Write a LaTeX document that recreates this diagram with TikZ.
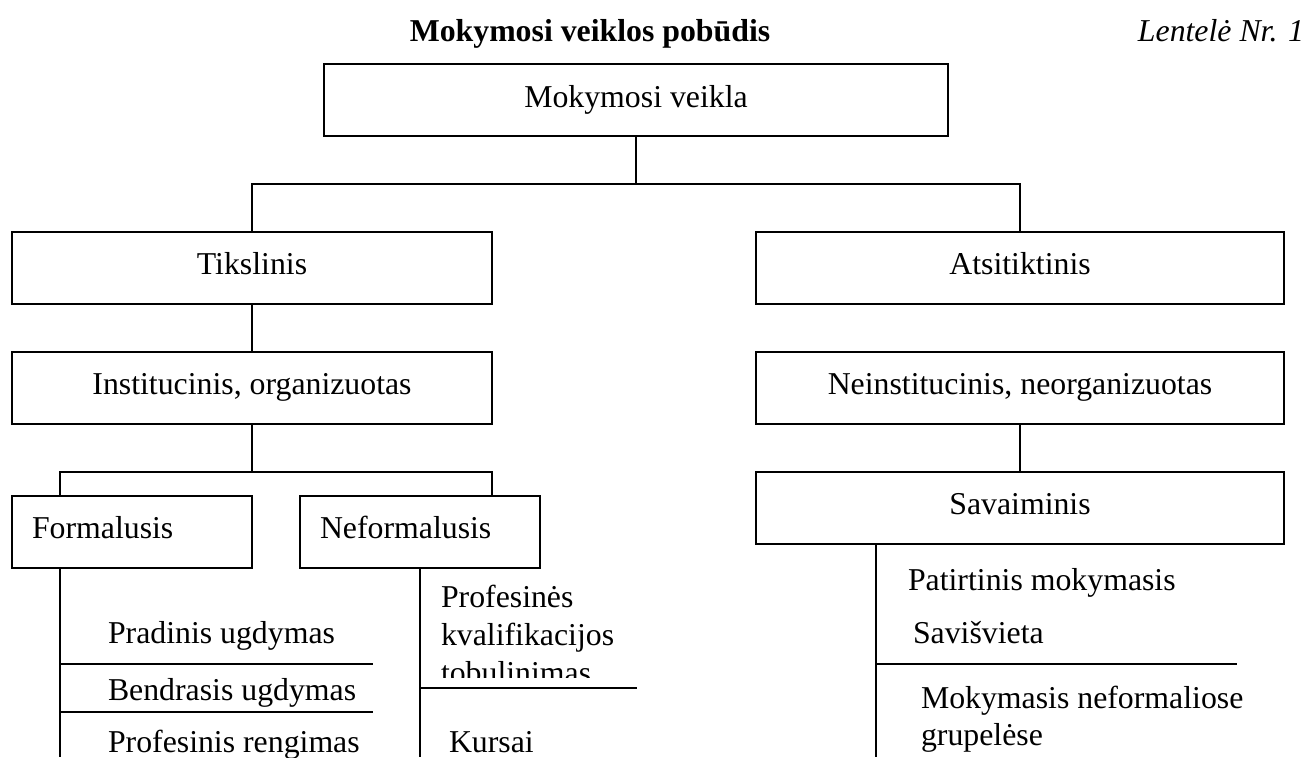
\documentclass[tikz,border=0pt]{standalone}
\usepackage{fontspec}
\setmainfont{Liberation Serif}
\begin{document}
\begin{tikzpicture}[x=1pt,y=-1pt,
  every node/.style={font=\fontsize{31.8}{37}\selectfont, inner sep=0pt, outer sep=0pt},
  box/.style={draw, line width=2.2pt, minimum height=72pt, anchor=north west, text height=22pt, text depth=10pt},
  leftbox/.style={box, text width=200pt, inner xsep=20pt, align=left},
  lbl/.style={anchor=base west},
  conn/.style={line width=2.2pt}]
\useasboundingbox (0,0) rectangle (1308,757);
\clip (0,0) rectangle (1308,757);
% titles
\node[font=\fontsize{31.8}{37}\selectfont\bfseries, anchor=base] (title) at (590,42) {Mokymosi veiklos pobūdis};
\node[font=\fontsize{31.8}{37}\selectfont\itshape, anchor=base east] (tab) at (1304,42) {Lentelė Nr. 1};
% boxes
\node[box, minimum width=624pt] (top) at (324,64) {};
\node[lbl, anchor=base] (topt) at (636,107) {Mokymosi veikla};
\node[box, minimum width=480pt] (tik) at (12,232) {Tikslinis};
\node[box, minimum width=528pt] (ats) at (756,232) {Atsitiktinis};
\node[box, minimum width=480pt] (inst) at (12,352) {Institucinis, organizuotas};
\node[box, minimum width=528pt] (neinst) at (756,352) {Neinstitucinis, neorganizuotas};
\node[leftbox] (form) at (12,496) {Formalusis};
\node[leftbox] (neform) at (300,496) {Neformalusis};
\node[box, minimum width=528pt] (sav) at (756,472) {Savaiminis};
% coordinates
\coordinate (j1) at (636,184);
\coordinate (j1l) at (252,184);
\coordinate (j1r) at (1020,184);
\coordinate (j2) at (252,472);
\coordinate (j2l) at (60,472);
\coordinate (j2r) at (492,472);
\coordinate (fl) at (60,568);
\coordinate (fb) at (60,757);
\coordinate (nl) at (420,568);
\coordinate (nb) at (420,757);
\coordinate (sl) at (876,544);
\coordinate (sb) at (876,757);
\coordinate (h1a) at (60,664);
\coordinate (h1b) at (373,664);
\coordinate (h2a) at (60,712);
\coordinate (h2b) at (373,712);
\coordinate (h3a) at (420,688);
\coordinate (h3b) at (637,688);
\coordinate (h4a) at (876,664);
\coordinate (h4b) at (1237,664);
% connectors
\draw[conn] (top.south) -- (j1);
\draw[conn] (tik.north) -- (j1l) -- (j1r) -- (ats.north);
\draw[conn] (tik.south) -- (inst.north);
\draw[conn] (inst.south) -- (j2);
\draw[conn] (form.north -| j2l) -- (j2l) -- (j2r) -- (neform.north -| j2r);
\draw[conn] (neinst.south) -- (sav.north);
\draw[conn] (fl) -- (fb);
\draw[conn] (nl) -- (nb);
\draw[conn] (sl) -- (sb);
\draw[conn] (h1a) -- (h1b);
\draw[conn] (h2a) -- (h2b);
\draw[conn] (h3a) -- (h3b);
\draw[conn] (h4a) -- (h4b);
% list texts
\node[lbl] (p1) at (108,643) {Pradinis ugdymas};
\node[lbl] (p2) at (108,700) {Bendrasis ugdymas};
\node[lbl] (p3) at (108,752) {Profesinis rengimas};
\node[lbl] (k1) at (441,607) {Profesinės};
\node[lbl] (k2) at (441,645) {kvalifikacijos};
\begin{scope}
\clip (400,650) rectangle (700,677);
\node[lbl] (k3) at (441,683) {tobulinimas};
\end{scope}
\node[lbl] (k4) at (449,752) {Kursai};
\node[lbl] (s1) at (908,590) {Patirtinis mokymasis};
\node[lbl] (s2) at (913,643) {Savišvieta};
\node[lbl] (s3) at (921,708) {Mokymasis neformaliose};
\node[lbl] (s4) at (921,745) {grupelėse};
\end{tikzpicture}
\end{document}
